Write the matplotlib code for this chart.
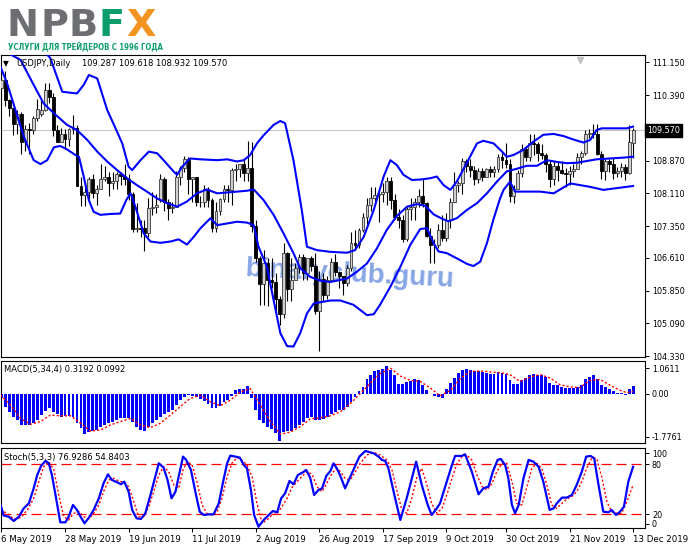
import matplotlib
matplotlib.use('Agg')
import matplotlib.pyplot as plt
import matplotlib.transforms as mtransforms
import numpy as np

# ---------------- DATA ----------------
opens = [110.55,110.75,110.28,110.10,109.72,109.95,109.30,109.60,109.58,109.85,
         109.95,110.05,110.52,110.35,109.58,109.30,109.50,109.38,109.60,109.62,
         108.28,108.08,108.15,108.45,108.12,108.20,108.45,108.50,108.35,108.40,
         108.55,108.52,108.45,108.10,107.28,107.30,107.30,107.18,107.78,107.80,
         107.95,108.45,107.90,107.78,107.80,108.48,108.70,108.90,108.45,108.48,
         107.90,107.92,108.20,107.95,107.30,107.70,107.98,108.20,108.18,108.65,
         108.68,108.80,108.58,108.70,107.35,106.60,106.00,106.50,106.10,106.05,
         105.65,105.30,106.72,105.88,106.10,106.38,106.62,106.25,106.60,106.42,
         105.38,106.12,105.75,106.10,106.52,106.28,106.20,106.02,106.38,106.95,
         106.90,107.25,107.55,107.85,108.00,108.08,108.10,108.15,108.40,107.95,
         107.55,107.50,107.05,107.75,107.80,107.92,108.05,107.88,107.12,106.90,
         106.92,107.25,107.08,107.48,107.90,108.30,108.35,108.85,108.75,108.65,
         108.45,108.62,108.50,108.68,108.60,108.68,108.95,108.88,108.80,108.05,
         108.20,108.58,109.15,108.95,109.28,109.25,109.05,109.00,108.80,108.45,
         108.75,108.65,108.58,108.55,108.62,108.68,108.95,109.05,109.50,109.52,
         109.48,109.02,108.62,108.85,108.78,108.58,108.62,108.72,108.58,109.287]
highs = [110.95,110.95,110.30,110.10,110.05,110.00,109.70,109.75,109.90,110.30,
         110.32,110.67,110.68,110.45,109.70,109.62,109.60,109.62,109.92,109.70,
         108.50,108.40,108.50,108.55,108.30,108.80,108.75,108.60,108.60,108.60,
         108.60,108.80,108.55,108.15,107.88,107.50,107.50,108.00,108.15,108.10,
         108.55,108.50,107.98,107.90,108.62,108.75,108.98,108.95,108.50,108.50,
         108.05,108.30,108.25,108.00,107.90,108.00,108.30,108.30,108.70,108.80,
         108.80,108.90,109.32,109.30,107.50,106.65,106.80,106.60,106.60,106.25,
         105.72,106.95,106.75,106.60,106.50,106.70,106.70,106.60,106.65,106.72,
         106.30,106.25,106.20,106.60,106.70,106.30,106.20,106.45,107.22,107.25,
         107.30,107.65,108.00,108.25,108.25,108.15,108.35,108.48,108.50,108.10,
         107.75,107.60,107.80,108.00,108.00,108.20,108.47,107.90,107.30,107.05,
         107.40,107.60,107.65,108.00,108.60,108.40,108.92,108.90,108.90,108.75,
         108.70,108.70,108.70,108.75,108.75,109.02,109.05,109.28,108.90,108.30,
         108.65,109.25,109.20,109.48,109.50,109.30,109.25,109.05,108.85,108.85,
         108.85,108.85,108.70,108.75,108.80,109.05,109.10,109.58,109.60,109.72,
         109.72,109.10,108.90,108.90,108.92,108.72,108.82,108.80,109.70,109.618]
lows = [110.28,110.15,109.90,109.47,109.48,109.03,109.10,109.02,109.50,109.80,
        109.90,110.02,110.20,109.45,109.30,109.30,109.15,109.20,109.50,108.28,
        107.82,107.82,107.98,108.00,107.85,108.20,108.40,108.05,108.20,108.20,
        108.30,108.30,107.95,107.22,107.20,107.10,106.78,107.10,107.60,107.65,
        107.90,107.70,107.50,107.65,107.80,108.30,108.60,108.10,107.90,107.82,
        107.80,107.80,107.80,107.20,107.20,107.60,107.90,107.90,107.85,108.40,
        108.50,108.40,108.40,107.22,106.52,105.52,105.52,105.50,105.90,105.27,
        105.05,105.22,105.60,105.60,106.10,106.25,106.10,106.10,106.30,105.30,
        104.45,105.60,105.65,106.08,106.20,105.90,105.75,105.95,106.30,106.80,
        106.85,107.20,107.40,107.70,107.88,107.45,107.90,107.85,107.75,107.52,
        107.30,106.98,107.00,107.50,107.50,107.80,107.80,107.10,106.48,106.50,
        106.85,107.00,107.00,107.30,107.90,108.15,108.10,108.60,108.50,108.30,
        108.35,108.40,108.48,108.50,108.50,108.60,108.70,108.70,107.90,107.88,
        108.20,108.50,108.85,108.85,109.00,108.85,108.90,108.60,108.25,108.30,
        108.40,108.55,108.25,108.30,108.50,108.68,108.80,109.00,109.40,109.40,
        109.00,108.45,108.42,108.60,108.45,108.50,108.50,108.42,108.55,108.932]
closes = [110.75,110.28,110.10,109.72,109.95,109.30,109.60,109.58,109.85,110.08,
          110.05,110.52,110.35,109.58,109.30,109.50,109.38,109.60,109.62,108.28,
          108.08,108.15,108.45,108.12,108.20,108.45,108.50,108.35,108.40,108.55,
          108.52,108.45,108.10,107.28,107.30,107.28,107.18,107.78,107.80,107.85,
          108.45,107.90,107.78,107.80,108.48,108.70,108.90,108.45,108.48,107.90,
          107.92,108.20,107.95,107.30,107.70,107.98,108.20,108.18,108.65,108.68,
          108.80,108.58,108.70,107.35,106.60,106.00,106.50,106.10,106.05,105.65,
          105.30,106.72,105.88,106.10,106.38,106.62,106.25,106.60,106.42,105.38,
          106.12,105.75,106.10,106.52,106.28,106.20,106.02,106.38,106.95,106.90,
          107.25,107.55,107.85,108.00,108.08,108.10,108.15,108.40,107.95,107.55,
          107.50,107.05,107.75,107.80,107.92,108.05,107.88,107.12,106.90,106.92,
          107.25,107.08,107.48,107.90,108.30,108.35,108.85,108.75,108.65,108.45,
          108.62,108.50,108.68,108.60,108.68,108.95,108.88,108.80,108.05,108.20,
          108.58,109.15,108.95,109.28,109.25,109.05,109.00,108.80,108.45,108.75,
          108.65,108.58,108.55,108.62,108.68,108.95,109.05,109.50,109.52,109.48,
          109.02,108.62,108.85,108.78,108.58,108.62,108.72,108.58,109.30,109.570]

bb_upper_x = [0,4,8,12.3,15.3,19.0,20.7,22.0,24.1,26.6,29.1,30.4,32.0,32.9,35.0,37.1,39.2,40.8,43.4,44.2,
              45.5,47.5,50.1,54.3,56.8,59.3,61.0,62.6,64.3,66.0,68.5,70.2,71.4,73.5,75.6,76.9,79.4,82.8,87.0,89.0,
              91.2,93.7,96.2,97.9,99.5,101.2,103.3,105.4,107.9,109.6,111.3,113.0,114.6,117.1,119.7,121.3,123.9,126.0,127.2,128.9,
              131.4,133.9,136.4,139.0,141.5,144.0,146.5,148.2,149.8,151.1,154.0,157.4,159.0]
bb_upper = [112.2,111.95,111.7,111.25,110.47,110.43,110.63,110.86,110.78,110.05,109.54,109.27,108.73,108.65,108.88,109.08,109.04,108.88,108.61,108.54,
            108.73,108.92,108.90,108.88,108.90,108.85,108.88,109.00,109.27,109.46,109.70,109.79,109.74,108.88,107.72,106.87,106.79,106.75,106.73,106.79,
            107.10,107.72,108.50,108.88,108.77,108.54,108.42,108.43,108.46,108.50,108.30,108.19,108.38,108.81,109.27,109.33,109.27,109.08,108.96,109.00,
            109.12,109.31,109.47,109.49,109.44,109.36,109.29,109.35,109.58,109.62,109.62,109.62,109.66]

bb_mid_x = [0,3,4.8,8.1,10.6,13.2,16.5,19.0,21.6,24.1,26.6,29.1,31.6,34.1,36.6,39.2,41.7,44.2,46.7,49.2,
            51.7,54.3,56.8,59.3,61.8,63.5,66.0,68.5,71.0,73.5,75.2,77.7,80.3,82.8,87.0,89.5,92.0,94.5,97.0,99.5,
            102.1,104.6,106.7,108.8,110.9,112.5,114.6,117.1,119.7,122.2,124.7,127.2,129.7,132.2,134.8,137.3,139.8,142.3,144.8,147.3,
            149.8,153.2,156.6,159.0]
bb_mid = [111.45,111.3,111.21,110.63,110.20,109.97,109.70,109.58,109.35,109.08,108.85,108.65,108.46,108.30,108.15,107.99,107.88,107.80,107.92,108.11,
          108.20,108.11,108.13,108.15,108.17,108.20,107.95,107.61,107.18,106.72,106.37,106.17,106.08,106.05,106.13,106.29,106.48,106.83,107.26,107.58,
          107.80,107.86,107.82,107.62,107.52,107.46,107.53,107.72,107.88,108.11,108.38,108.62,108.68,108.75,108.75,108.88,108.84,108.81,108.82,108.86,
          108.90,108.92,108.94,108.96]

bb_lower_x = [-0.25,1.4,3.5,5.6,8.1,9.8,11.5,13.2,14.8,16.5,18.6,19.5,20.7,22.0,23.2,24.9,27.4,29.9,31.4,32.5,
              33.7,35.8,37.5,40.0,42.5,44.6,46.7,48.4,50.1,52.6,54.3,56.8,59.3,61.8,63.5,64.7,66.8,68.5,70.2,71.9,
              73.5,75.2,76.9,78.6,80.3,82.8,85.3,88.6,92.0,93.7,95.3,97.9,100.4,102.9,105.4,107.1,108.8,110.0,112.1,114.6,
              117.2,118.8,120.5,122.2,123.8,125.5,126.4,128.0,129.3,135.6,139.0,143.2,148.2,151.5,159.0]
bb_lower = [111.05,110.67,110.05,109.43,108.88,108.79,108.88,109.18,109.21,109.13,109.00,108.96,108.50,107.95,107.68,107.61,107.63,107.64,107.95,108.11,
            107.80,107.18,106.99,106.96,106.99,107.04,106.92,107.10,107.30,107.53,107.37,107.41,107.45,107.43,107.37,106.87,106.41,105.63,104.86,104.56,
            104.55,104.86,105.32,105.55,105.58,105.62,105.62,105.52,105.28,105.30,105.52,105.94,106.40,106.91,107.28,107.30,106.95,106.76,106.72,106.60,
            106.47,106.42,106.52,106.95,107.49,107.99,108.19,108.38,108.15,108.15,108.11,108.34,108.26,108.19,108.28]

macd_hist = [-0.19,-0.53,-0.74,-0.95,-1.08,-1.29,-1.29,-1.29,-1.22,-1.08,
             -0.88,-0.71,-0.58,-0.74,-0.85,-0.95,-0.90,-0.92,-0.95,-1.22,
             -1.40,-1.66,-1.59,-1.56,-1.50,-1.36,-1.29,-1.22,-1.15,-1.08,
             -1.02,-0.99,-0.99,-1.15,-1.36,-1.50,-1.56,-1.36,-1.22,-1.08,
             -0.95,-0.85,-0.74,-0.67,-0.47,-0.26,-0.12,-0.05,-0.08,-0.12,
             -0.22,-0.30,-0.40,-0.60,-0.60,-0.49,-0.33,-0.26,-0.08,0.15,
             0.22,0.22,0.32,-0.15,-0.67,-1.08,-1.22,-1.36,-1.45,-1.63,
             -1.95,-1.59,-1.54,-1.54,-1.43,-1.29,-1.15,-1.02,-0.95,-1.08,
             -1.08,-1.04,-0.95,-0.85,-0.74,-0.67,-0.65,-0.53,-0.33,-0.12,
             0.11,0.29,0.60,0.80,0.95,0.99,1.04,1.14,0.97,0.77,
             0.43,0.43,0.49,0.52,0.60,0.56,0.36,0.15,0.01,-0.10,
             -0.12,-0.16,0.22,0.47,0.66,0.88,0.97,1.02,0.97,0.93,
             0.93,0.90,0.88,0.84,0.84,0.90,0.88,0.84,0.56,0.43,
             0.43,0.59,0.66,0.80,0.84,0.80,0.80,0.70,0.47,0.38,
             0.38,0.29,0.25,0.25,0.25,0.29,0.36,0.60,0.70,0.77,
             0.60,0.38,0.29,0.22,0.11,0.05,0.04,-0.03,0.19,0.3192]

macd_sig_x = [-0.25,2.3,4.8,7.3,9.8,12.3,14.8,17.4,19.9,22.4,24.9,27.4,29.9,32.5,35.0,37.5,40.0,42.5,45.0,47.5,
              50.1,52.6,55.1,57.6,60.1,62.6,65.2,67.7,70.2,72.7,75.2,77.7,80.3,82.8,85.3,87.8,90.3,92.8,95.3,97.9,
              100.4,102.9,105.4,107.9,110.4,113.0,115.5,118.0,120.5,123.0,125.5,128.0,130.5,133.1,135.6,138.1,140.6,143.1,145.6,148.1,
              150.7,153.2,155.7,157.4,159.0]
macd_sig = [-0.05,-0.47,-1.02,-1.26,-1.15,-0.88,-0.91,-0.91,-1.22,-1.54,-1.50,-1.29,-1.15,-1.02,-1.29,-1.40,-1.22,-0.88,-0.53,-0.19,
            -0.05,-0.33,-0.49,-0.26,0.08,0.22,-0.47,-1.15,-1.67,-1.59,-1.36,-1.04,-0.99,-0.91,-0.74,-0.40,0.01,0.43,0.84,1.07,
            0.74,0.56,0.52,0.25,-0.08,0.15,0.63,0.93,0.95,0.91,0.88,0.80,0.52,0.70,0.80,0.66,0.38,0.29,0.26,0.56,
            0.60,0.36,0.15,0.05,0.0992]

sto_main_x = [-0.25,0.6,1.8,3.1,4.4,5.6,6.9,8.1,9.0,10.0,11.1,11.9,12.7,13.6,14.8,16.1,16.9,18.0,19.0,19.9,
              20.9,22.0,23.2,24.5,25.7,26.8,27.8,29.1,30.1,30.9,32.0,32.9,34.0,35.1,36.2,37.5,38.5,39.6,40.8,41.8,
              42.8,43.8,44.6,45.7,46.5,47.7,48.8,49.9,50.9,52.2,53.4,54.7,55.8,56.8,57.6,58.9,60.0,61.0,61.8,62.8,
              63.6,64.7,66.0,67.3,68.3,69.4,70.4,71.4,72.5,73.5,74.6,75.9,76.7,77.7,78.7,79.8,80.7,81.8,82.8,83.6,
              84.4,85.3,86.5,88.6,90.1,91.6,93.7,94.9,95.8,96.6,97.4,99.1,100.4,102.0,103.3,104.4,105.8,107.3,108.3,109.6,
              110.4,112.1,113.4,114.2,115.9,116.7,118.4,120.1,121.3,122.6,123.7,124.9,125.7,126.8,127.6,128.5,129.3,130.2,131.4,132.7,
              133.9,135.2,136.4,138.0,139.0,139.8,141.1,142.3,143.6,144.8,146.1,147.2,148.3,149.2,150.3,151.5,152.8,153.6,154.7,155.7,
              156.7,157.8,159.0]
sto_main = [30.9,18.0,16.8,11.6,16.8,26.9,32.9,51.0,67.1,78.4,84.1,81.2,67.1,43.0,10.0,10.0,16.8,30.9,24.9,16.8,
            8.7,15.6,24.9,38.9,57.1,67.9,61.1,58.3,55.9,59.1,47.0,24.9,14.8,14.0,20.8,43.0,61.1,81.2,76.0,61.1,
            38.9,47.0,65.1,89.3,85.3,73.2,47.0,22.8,18.8,19.6,19.6,32.9,59.1,81.2,90.5,89.3,88.1,79.2,75.2,49.0,
            18.8,4.7,12.8,18.8,23.6,22.0,38.9,45.0,59.9,55.9,67.1,70.4,73.2,63.9,43.0,49.0,51.0,66.3,72.0,81.2,
            75.2,66.0,51.0,73.2,89.3,96.1,93.3,89.3,85.3,84.1,75.2,38.9,12.8,38.9,63.1,83.2,55.1,30.9,18.8,26.9,
            32.9,59.1,79.2,90.1,90.1,92.1,71.2,43.8,51.0,53.1,71.2,85.3,86.5,79.2,63.1,30.9,20.8,30.9,63.1,85.3,
            83.2,77.2,59.1,24.9,26.9,32.9,39.8,39.8,43.0,55.1,71.2,89.3,90.1,87.3,55.1,22.8,22.0,24.9,18.8,22.8,
            28.9,59.1,76.93]

sto_sig_x = [-0.25,1.4,3.1,4.8,6.5,8.1,9.4,10.6,11.9,13.2,14.4,15.7,16.9,18.2,19.5,20.7,22.0,23.2,24.5,25.7,
             27.0,28.3,29.5,30.8,32.0,33.3,34.5,35.8,37.1,38.3,39.6,40.8,42.1,43.4,44.6,45.7,46.7,48.0,49.2,50.5,
             51.7,53.0,54.3,55.5,56.8,58.0,59.3,60.5,61.8,63.1,64.3,65.6,66.8,68.1,69.4,70.6,71.9,73.1,74.4,75.6,
             76.9,78.2,79.4,80.7,81.9,83.2,84.4,85.3,86.5,87.8,89.1,90.3,92.0,93.7,95.3,97.0,98.3,99.5,100.8,102.0,
             103.3,104.6,105.8,107.1,108.3,109.6,110.9,112.1,113.4,114.7,115.9,117.1,118.4,119.7,121.0,122.2,123.5,124.7,126.0,127.2,
             128.5,129.7,131.0,132.3,133.5,134.8,136.0,137.3,138.5,139.8,141.1,142.3,143.6,144.8,146.1,147.3,148.6,149.8,151.1,152.4,
             153.6,154.9,156.1,157.4,159.0]
sto_sig = [24.9,20.8,14.0,15.6,24.9,38.9,59.1,77.2,83.2,73.2,43.0,16.8,12.8,20.8,22.8,16.8,14.0,20.8,30.9,47.0,
           61.1,63.1,59.9,58.3,53.1,34.9,16.8,16.8,28.9,47.0,67.1,77.2,71.2,55.1,51.0,73.2,83.2,79.2,59.1,30.9,
           20.8,18.8,22.8,38.9,65.1,81.2,88.1,85.3,79.2,65.1,32.9,8.7,12.8,18.8,20.8,28.9,38.9,51.8,59.1,65.1,
           71.2,67.9,53.1,47.0,57.1,69.2,75.2,71.2,63.1,61.1,71.2,81.2,91.3,94.5,91.3,85.3,73.2,49.0,24.9,20.8,
           38.9,65.1,75.2,55.1,32.9,20.8,26.9,43.0,63.1,81.2,89.3,91.3,85.3,67.1,53.1,49.0,57.1,71.2,81.2,81.2,
           59.1,32.9,30.9,53.1,75.2,81.2,75.2,55.1,30.9,26.9,32.9,38.1,41.0,47.0,59.1,75.2,87.3,87.3,65.1,34.9,
           22.8,20.8,20.8,34.9,54.84]

date_idx = [0, 16, 32, 48, 64, 80, 96, 112, 127, 143, 159]
date_labels = ['6 May 2019', '28 May 2019', '19 Jun 2019', '11 Jul 2019', '2 Aug 2019',
               '26 Aug 2019', '17 Sep 2019', '9 Oct 2019', '30 Oct 2019', '21 Nov 2019', '13 Dec 2019']
price_ticks = [111.150, 110.390, 108.870, 108.110, 107.350, 106.610, 105.850, 105.090, 104.330]
last_price = 109.570
macd_ticks = [1.0611, 0.0, -1.7761]
macd_tick_labels = ['1.0611', '0.00', '-1.7761']
sto_levels = [80, 20]

# ---------------- LAYOUT ----------------
W, H = 691, 549
fig = plt.figure(figsize=(W / 100, H / 100), dpi=100)
fig.patch.set_facecolor('white')

def fx(px):
    return px / W

def fy(py):
    return 1 - py / H

ax_main = fig.add_axes([fx(0.5), fy(357), fx(645) - fx(0.5), fy(55) - fy(357)])
ax_macd = fig.add_axes([fx(0.5), fy(443), fx(645) - fx(0.5), fy(361) - fy(443)])
ax_sto = fig.add_axes([fx(0.5), fy(528), fx(645) - fx(0.5), fy(448) - fy(528)])

XL = (-0.25, 162.0)
FONT = 'DejaVu Sans'
LS = 5.8
for ax in (ax_main, ax_macd, ax_sto):
    ax.set_xlim(*XL)
    ax.set_facecolor('white')
    for s in ax.spines.values():
        s.set_color('black')
        s.set_linewidth(0.8)
    ax.yaxis.tick_right()
    ax.tick_params(axis='y', direction='out', length=3, width=0.7, pad=2,
                   labelsize=LS, colors='black')
    ax.tick_params(axis='x', bottom=False, labelbottom=False)
    for lab in ax.get_yticklabels():
        lab.set_family(FONT)

# ---------------- MAIN PANEL ----------------
n = len(closes)
idx = np.arange(n)
o = np.array(opens); h = np.array(highs); l = np.array(lows); c = np.array(closes)
ax_main.set_ylim(104.307, 111.324)

# watermark (behind candles)
ax_main.text(87.5, 105.93, 'binaryclub.guru', fontsize=20, fontweight='bold',
             family='Liberation Sans', color='#6a90de', alpha=0.8,
             ha='center', va='baseline', rotation=-3, zorder=1)

ax_main.axhline(last_price, color='#c8c8c8', lw=0.8, zorder=0.5)

ax_main.vlines(idx, l, h, color='black', lw=0.8, zorder=3)
bull = c >= o
body_lo = np.minimum(o, c)
body_h = np.maximum(np.abs(c - o), 0.012)
ax_main.bar(idx[bull], body_h[bull], bottom=body_lo[bull], width=0.72,
            color='#cfcfcf', edgecolor='#3a3a3a', linewidth=0.6, zorder=4)
ax_main.bar(idx[~bull], body_h[~bull], bottom=body_lo[~bull], width=0.72,
            color='black', edgecolor='black', linewidth=0.6, zorder=4)

for xs, ys in ((bb_upper_x, bb_upper), (bb_mid_x, bb_mid), (bb_lower_x, bb_lower)):
    ax_main.plot(xs, ys, color='#0000ff', lw=1.5, zorder=5, solid_joinstyle='round')

ax_main.set_yticks(price_ticks)
ax_main.set_yticklabels(['%.3f' % v for v in price_ticks])

tr = mtransforms.blended_transform_factory(ax_main.transAxes, ax_main.transData)
ax_main.text(1.003, last_price, '%.3f' % last_price, transform=tr, color='white',
             fontsize=LS, family=FONT, va='center', ha='left', clip_on=False,
             bbox=dict(boxstyle='square,pad=0.25', fc='black', ec='black'))

trs = mtransforms.blended_transform_factory(ax_main.transData, ax_main.transAxes)
ax_main.plot([145.7], [0.985], marker='v', ms=5, color='#c0c0c0', transform=trs,
             clip_on=False, zorder=6)

# header
fig.text(fx(3), fy(63.5), '\u25bc', fontsize=5.5, color='black', family=FONT, va='center')
fig.text(fx(16), fy(63.5), 'USDJPY,Daily', fontsize=6, color='black', family=FONT, va='center')
fig.text(fx(82), fy(63.5), '109.287 109.618 108.932 109.570', fontsize=6, color='black',
         family=FONT, va='center')

# ---------------- MACD ----------------
ax_macd.set_ylim(-2.037, 1.364)
ax_macd.bar(idx, macd_hist, width=0.72, color='#0000ff', zorder=2)
ax_macd.plot(macd_sig_x, macd_sig, color='#ff0000', lw=1.0, ls=(0, (1.5, 1.5)), zorder=3)
ax_macd.set_yticks(macd_ticks)
ax_macd.set_yticklabels(macd_tick_labels)
ax_macd.text(0.006, 0.90, 'MACD(5,34,4) 0.3192 0.0992', transform=ax_macd.transAxes,
             fontsize=6, family=FONT, color='black', va='center')

# ---------------- STOCH ----------------
ax_sto.set_ylim(3.1, 99.7)
for lv in sto_levels:
    ax_sto.axhline(lv, color='#ff0000', lw=0.9, ls=(0, (8, 4)), zorder=1)
ax_sto.plot(sto_sig_x, sto_sig, color='#ff0000', lw=1.0, ls=(0, (1.5, 1.5)), zorder=3)
ax_sto.plot(sto_main_x, sto_main, color='#0000ff', lw=1.6, zorder=4)
ax_sto.set_yticks([93.4, 80, 20, 8.0])
ax_sto.set_yticklabels(['100', '80', '20', '0'])
ax_sto.text(0.006, 0.88, 'Stoch(5,3,3) 76.9286 54.8403', transform=ax_sto.transAxes,
            fontsize=6, family=FONT, color='black', va='center')

ax_sto.set_xticks(date_idx)
ax_sto.set_xticklabels(date_labels)
ax_sto.tick_params(axis='x', bottom=True, labelbottom=True, direction='out', length=3,
                   width=0.7, pad=2, labelsize=6.2, colors='black')
for lab in ax_sto.get_xticklabels():
    lab.set_horizontalalignment('left')
    lab.set_family(FONT)

# ---------------- LOGO ----------------
logo = [('N', 7, '#6d6e71'), ('P', 40, '#6d6e71'), ('B', 69, '#6d6e71'),
        ('F', 99, '#0b9e6c'), ('X', 126, '#f39320')]
for ch, xp, col in logo:
    fig.text(fx(xp), fy(36.5), ch, fontsize=27.5, fontweight='heavy', family=FONT,
             color=col, va='baseline', ha='left')
fig.text(fx(8), fy(50.5), 'УСЛУГИ ДЛЯ ТРЕЙДЕРОВ С 1996 ГОДА', fontsize=5.6,
         fontweight='bold', family=FONT, fontstretch='condensed', color='#0b9e6c',
         va='baseline', ha='left')

fig.savefig('out.png', dpi=100, facecolor='white')
